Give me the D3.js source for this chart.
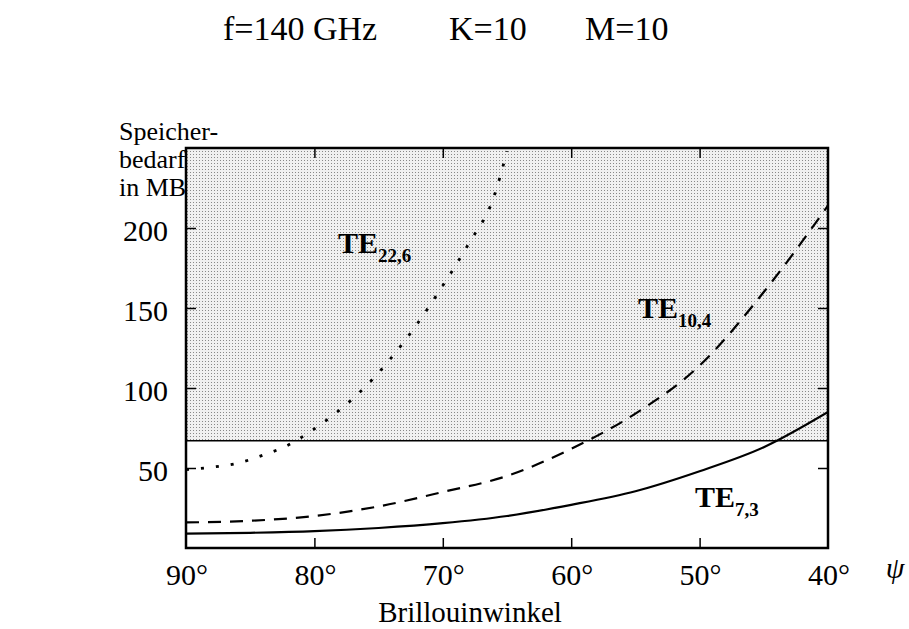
<!DOCTYPE html>
<html>
<head>
<meta charset="utf-8">
<script src="https://cdn.jsdelivr.net/npm/d3@7"></script>
<style>
  html, body { margin: 0; padding: 0; background: #fff; }
  svg { display: block; }
  text { font-family: "Liberation Serif", "DejaVu Serif", serif; fill: #000; }
</style>
</head>
<body>
<svg id="chart" width="909" height="629"></svg>
<script>
// ---- data ----
const xTicks = [90, 80, 70, 60, 50, 40];
const yTicks = [50, 100, 150, 200];
const limitMB = 67;

const anglesTE226 = [90, 88, 86, 84, 82, 80, 78, 76, 74, 72, 70, 68, 66, 65];
const valuesTE226 = [49, 50.5, 53, 58, 64.5, 74.5, 86.5, 101, 119, 140, 164, 190, 220, 248];

const anglesTE104 = [90, 85, 80, 75, 70, 65, 60, 55, 50, 45, 40];
const valuesTE104 = [16, 17, 20, 26, 35, 45, 62, 84, 114, 160, 214];

const anglesTE73 = [90, 85, 80, 75, 70, 65, 60, 55, 50, 45, 40];
const valuesTE73 = [9, 9.5, 10.5, 12.5, 15.5, 20, 27, 35.5, 48, 63, 85];

// ---- chart ----
const FONT = "Liberation Serif, DejaVu Serif, serif";
const svg = d3.select("#chart");
const L = 186, R = 828, T = 148, B = 548;
const x = d3.scaleLinear().domain([90, 40]).range([L, R]);
const y = d3.scaleLinear().domain([0, 250]).range([B, T]);

// pattern for shaded region
const defs = svg.append("defs");
const pat = defs.append("pattern").attr("id", "stip").attr("patternUnits", "userSpaceOnUse")
  .attr("width", 3).attr("height", 3);
pat.append("rect").attr("width", 3).attr("height", 3).attr("fill", "#f0f0f0");
pat.append("rect").attr("x", 1).attr("y", 1).attr("width", 1).attr("height", 1).attr("fill", "#888");

defs.append("clipPath").attr("id", "clip").append("rect")
  .attr("x", L).attr("y", T).attr("width", R - L).attr("height", B - T);

svg.append("rect")
  .attr("x", L).attr("y", y(250)).attr("width", R - L).attr("height", y(limitMB) - y(250))
  .attr("fill", "url(#stip)");

svg.append("line")
  .attr("x1", L).attr("x2", R).attr("y1", y(limitMB)).attr("y2", y(limitMB))
  .attr("stroke", "#000").attr("stroke-width", 1.5);

// axes with inward ticks, mirrored
const axB = d3.axisBottom(x).tickValues(xTicks.slice(1, -1)).tickSize(-10).tickFormat("");
const axT = d3.axisTop(x).tickValues(xTicks.slice(1, -1)).tickSize(-10).tickFormat("");
const axLft = d3.axisLeft(y).tickValues(yTicks).tickSize(-10).tickFormat("");
const axRgt = d3.axisRight(y).tickValues(yTicks).tickSize(-10).tickFormat("");

function styleAxis(g) {
  g.select(".domain").remove();
  g.selectAll(".tick line").attr("stroke", "#000").attr("stroke-width", 1.5);
}
svg.append("g").attr("transform", `translate(0,${B})`).call(axB).call(styleAxis);
svg.append("g").attr("transform", `translate(0,${T})`).call(axT).call(styleAxis);
svg.append("g").attr("transform", `translate(${L},0)`).call(axLft).call(styleAxis);
svg.append("g").attr("transform", `translate(${R},0)`).call(axRgt).call(styleAxis);

// frame
svg.append("rect").attr("x", L).attr("y", T).attr("width", R - L).attr("height", B - T)
  .attr("fill", "none").attr("stroke", "#000").attr("stroke-width", 2.5);

// curves
const line = d3.line().x(d => x(d[0])).y(d => y(d[1])).curve(d3.curveMonotoneX);
const cg = svg.append("g").attr("clip-path", "url(#clip)");
cg.append("path").datum(d3.zip(anglesTE73, valuesTE73)).attr("d", line)
  .attr("fill", "none").attr("stroke", "#000").attr("stroke-width", 2.2);
cg.append("path").datum(d3.zip(anglesTE104, valuesTE104)).attr("d", line)
  .attr("fill", "none").attr("stroke", "#000").attr("stroke-width", 2.2)
  .attr("stroke-dasharray", "13,9");
cg.append("path").datum(d3.zip(anglesTE226, valuesTE226)).attr("d", line)
  .attr("fill", "none").attr("stroke", "#000").attr("stroke-width", 2.8)
  .attr("stroke-dasharray", "3,12");

// tick labels
svg.append("g").selectAll("text").data(xTicks).join("text")
  .attr("font-family", FONT)
  .attr("x", d => x(d) + 1).attr("y", 585).attr("text-anchor", "middle")
  .attr("font-size", 30).text(d => d + "°");
svg.append("g").selectAll("text").data(yTicks).join("text")
  .attr("font-family", FONT)
  .attr("x", 168).attr("y", d => y(d) + 13).attr("text-anchor", "end")
  .attr("font-size", 30).text(d => d);

// axis titles
svg.append("text").attr("font-family", FONT).attr("x", 470).attr("y", 622).attr("text-anchor", "middle")
  .attr("font-size", 29).text("Brillouinwinkel");
svg.append("text").attr("font-family", FONT).attr("x", 895).attr("y", 578).attr("text-anchor", "middle")
  .attr("font-size", 30).attr("font-style", "italic").text("ψ");
const yl = ["Speicher-", "bedarf", "in MB"];
svg.append("g").selectAll("text").data(yl).join("text")
  .attr("font-family", FONT)
  .attr("x", 119).attr("y", (d, i) => 140 + i * 28).attr("font-size", 26).text(d => d);

// title
svg.append("text").attr("font-family", FONT).attr("x", 223).attr("y", 40).attr("font-size", 34).text("f=140 GHz");
svg.append("text").attr("font-family", FONT).attr("x", 449).attr("y", 40).attr("font-size", 34).text("K=10");
svg.append("text").attr("font-family", FONT).attr("x", 585).attr("y", 40).attr("font-size", 34).text("M=10");

// curve labels
const labels = [
  { main: "TE", sub: "22,6", x: 338, y: 253 },
  { main: "TE", sub: "10,4", x: 638, y: 318 },
  { main: "TE", sub: "7,3", x: 695, y: 507 }
];
labels.forEach(l => {
  const t = svg.append("text").attr("font-family", FONT).attr("x", l.x).attr("y", l.y)
    .attr("font-size", 30).attr("font-weight", "bold");
  t.append("tspan").text(l.main);
  t.append("tspan").attr("font-size", 19).attr("dy", 9).text(l.sub);
});
</script>
</body>
</html>
